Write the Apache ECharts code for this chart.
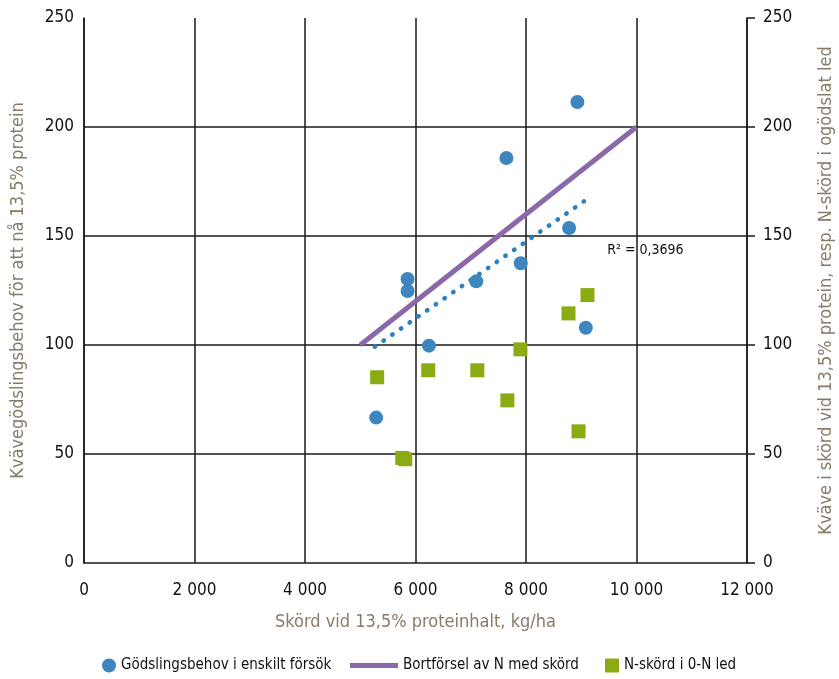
<!DOCTYPE html>
<html>
<head>
<meta charset="utf-8">
<script src="https://cdn.jsdelivr.net/npm/echarts@6/dist/echarts.min.js"></script>
<style>
  html, body { margin: 0; padding: 0; background: #fff; }
  #chart { width: 839px; height: 679px; }
</style>
</head>
<body>
<div id="chart"></div>
<script>

// blue points: Gödslingsbehov i enskilt försök
let behovX = [8930, 7645, 8780, 7905, 7100, 5856, 5856, 6243, 9083, 5288];
let behovY = [211.5, 185.8, 153.7, 137.5, 129.2, 130.3, 124.8, 99.7, 107.9, 66.7];

// green squares: N-skörd i 0-N led
let nskordX = [9113, 8769, 7899, 6231, 7119, 5306, 7663, 8951, 5760, 5815];
let nskordY = [122.9, 114.5, 98.0, 88.4, 88.4, 85.2, 74.6, 60.4, 48.2, 47.6];

// purple line: Bortförsel av N med skörd
let bortX = [5000, 10000];
let bortY = [100, 200];

// dotted trend line of the blue points
let trendX = [5263, 9047];
let trendY = [99.2, 165.9];
let r2Text = 'R² = 0,3696';
let r2Pos = [9470, 143.6];

let FONT = "'DejaVu Sans Condensed', 'Liberation Sans Narrow', sans-serif";
let titleColor = '#8a7a68';
let gridColor = '#1a1a1a';

function zip(a, b){
    let out = [];
    for (let i = 0; i < a.length; i++){
        out.push([a[i], b[i]]);
    }
    return out;
}

function fmtThousand(v){
    if (v < 1000) return String(v);
    let s = String(v);
    return s.slice(0, s.length - 3) + ' ' + s.slice(s.length - 3);
}

let myChart = echarts.init(document.getElementById('chart'));

let legendText = { fontFamily: FONT, fontSize: 15, color: '#111' };

option = {
    animation: false,
    textStyle: { fontFamily: FONT },
    grid: { left: 84, right: 92, top: 18, bottom: 116, containLabel: false, outerBoundsMode: 'none' },
    legend: [
        {
            left: 102, top: 658, padding: 0,
            itemWidth: 14, itemHeight: 14,
            textStyle: legendText,
            data: [{ name: 'Gödslingsbehov i enskilt försök', icon: 'circle' }]
        },
        {
            left: 350, top: 658, padding: 0,
            itemWidth: 48, itemHeight: 5,
            textStyle: legendText,
            data: [{ name: 'Bortförsel av N med skörd', icon: 'rect' }]
        },
        {
            left: 605, top: 658, padding: 0,
            itemWidth: 14, itemHeight: 14,
            textStyle: legendText,
            data: [{ name: 'N-skörd i 0-N led', icon: 'rect' }]
        }
    ],
    xAxis: {
        type: 'value',
        min: 0,
        max: 12000,
        interval: 2000,
        name: 'Skörd vid 13,5% proteinhalt, kg/ha',
        nameLocation: 'middle',
        nameGap: 50,
        nameTextStyle: { fontFamily: FONT, fontSize: 18, color: titleColor },
        axisLine: { show: true, lineStyle: { color: gridColor, width: 1.5 } },
        axisTick: { show: false },
        axisLabel: {
            fontFamily: FONT, fontSize: 17, color: '#111', margin: 19,
            formatter: function (v) { return fmtThousand(v); }
        },
        splitLine: { show: true, lineStyle: { color: gridColor, width: 1.5 } }
    },
    yAxis: [
        {
            type: 'value',
            min: 0,
            max: 250,
            interval: 50,
            position: 'left',
            name: 'Kvävegödslingsbehov för att nå 13,5% protein',
            nameLocation: 'middle',
            nameGap: 57,
            nameTextStyle: { fontFamily: FONT, fontSize: 18, color: titleColor },
            axisLine: { show: true, lineStyle: { color: gridColor, width: 1.5 } },
            axisTick: { show: false },
            axisLabel: { fontFamily: FONT, fontSize: 17, color: '#111', margin: 10 },
            splitLine: {
                show: true, showMinLine: false, showMaxLine: false,
                lineStyle: { color: gridColor, width: 1.5 }
            }
        },
        {
            type: 'value',
            min: 0,
            max: 250,
            interval: 50,
            position: 'right',
            name: 'Kväve i skörd vid 13,5% protein, resp. N-skörd i ogödslat led',
            nameLocation: 'middle',
            nameGap: 70,
            nameRotate: 90,
            nameTextStyle: { fontFamily: FONT, fontSize: 18, color: titleColor },
            axisLine: { show: true, lineStyle: { color: gridColor, width: 1.5 } },
            axisTick: { show: true, inside: false, length: 8, lineStyle: { color: gridColor, width: 1.5 } },
            axisLabel: { fontFamily: FONT, fontSize: 17, color: '#111', margin: 16 },
            splitLine: { show: false }
        }
    ],
    series: [
        {
            name: 'Bortförsel av N med skörd',
            type: 'line',
            showSymbol: false,
            symbol: 'none',
            itemStyle: { color: '#8c68aa' },
            lineStyle: { color: '#8c68aa', width: 5 },
            data: zip(bortX, bortY),
            z: 3
        },
        {
            name: 'trend',
            type: 'line',
            showSymbol: false,
            symbol: 'none',
            lineStyle: { color: '#2e7fbd', width: 4.5, type: [0.5, 10.1], cap: 'round' },
            data: zip(trendX, trendY),
            markPoint: {
                symbol: 'circle',
                symbolSize: 0,
                label: {
                    show: true, position: 'right', distance: 0,
                    fontFamily: FONT, fontSize: 14, color: '#111',
                    formatter: r2Text
                },
                data: [{ coord: r2Pos }]
            },
            z: 3
        },
        {
            name: 'Gödslingsbehov i enskilt försök',
            type: 'scatter',
            symbol: 'circle',
            symbolSize: 14,
            itemStyle: { color: '#3d86c0', opacity: 1 },
            data: zip(behovX, behovY),
            z: 4
        },
        {
            name: 'N-skörd i 0-N led',
            type: 'scatter',
            symbol: 'rect',
            symbolSize: 14,
            itemStyle: { color: '#8aab12', opacity: 1 },
            data: zip(nskordX, nskordY),
            z: 4
        }
    ]
};

myChart.setOption(option);
</script>
</body>
</html>
